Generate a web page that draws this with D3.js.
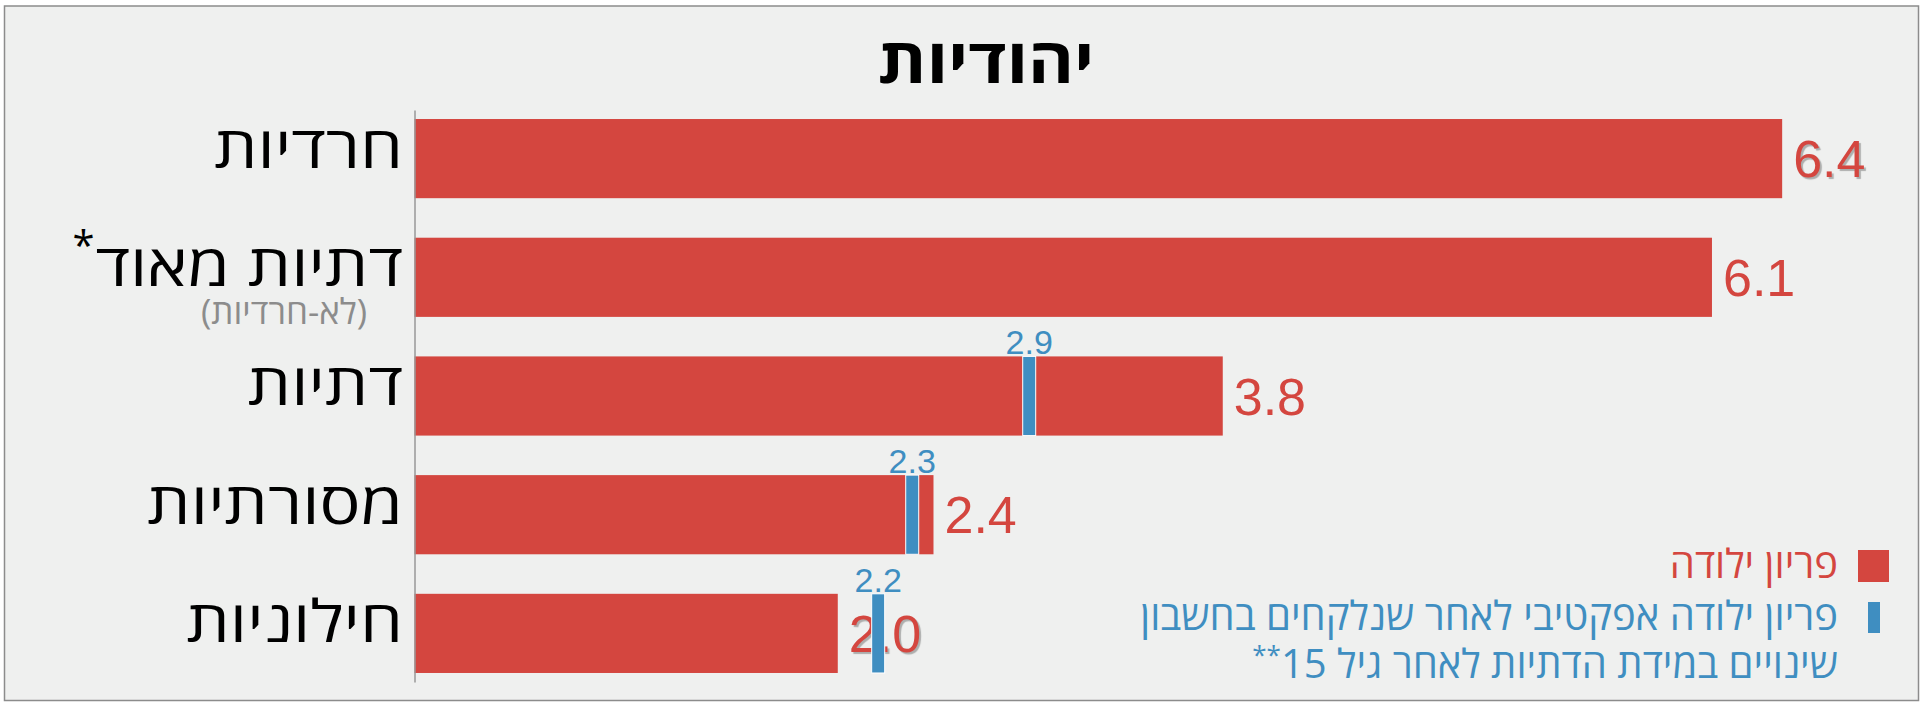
<!DOCTYPE html>
<html>
<head>
<meta charset="utf-8">
<script src="https://cdn.jsdelivr.net/npm/d3@7"></script>
<style>
  body { margin: 0; background: #fff; }
  .heb { font-family: "Open Sans", "DejaVu Sans", sans-serif; }
  .num { font-family: "Liberation Sans", Arial, sans-serif; }
</style>
</head>
<body>
<div class="viz"></div>
<script>
const chartTitle = "יהודיות";
const categories = ["חרדיות", "דתיות מאוד", "דתיות", "מסורתיות", "חילוניות"];
const categoryNotes = ["", "*", "", "", ""];
const categorySubs = ["", "(לא-חרדיות)", "", "", ""];
const fertility = [6.43, 6.10, 3.80, 2.44, 1.99];
const effective = [null, null, 2.89, 2.34, 2.18];
const legendRed = "פריון ילודה";
const legendBlue = ["פריון ילודה אפקטיבי לאחר שנלקחים בחשבון", "שינויים במידת הדתיות לאחר גיל 15"];
const legendBlueNote = "**";

const width = 1923, height = 702;
const red = "#d4463f", blue = "#3f8ec1";
const labelRight = 403;
const stretch = 1.18; // the reference's labels are drawn wider than the font

const svg = d3.select(".viz").append("svg")
  .attr("width", width)
  .attr("height", height)
  .style("display", "block");

// frame
svg.append("rect")
  .attr("x", 4.5).attr("y", 6)
  .attr("width", 1914).attr("height", 694.5)
  .attr("fill", "#eff0ef")
  .attr("stroke", "#8c8c8c")
  .attr("stroke-width", 1.5);

const x = d3.scaleLinear().domain([0, 6.5]).range([414.5, 414.5 + 6.5 * 212.7]);
const y = d3.scaleBand().domain(categories).range([110, 682])
  .paddingInner(0.333).paddingOuter(0.076);

svg.append("g")
  .attr("transform", "translate(986,83) scale(1.13,1)")
  .append("text")
  .attr("class", "heb")
  .attr("text-anchor", "middle")
  .attr("font-size", 62)
  .attr("font-weight", "bold")
  .attr("fill", "#000")
  .text(chartTitle);

// bars
svg.append("g").selectAll("rect")
  .data(categories)
  .enter().append("rect")
  .attr("x", x(0))
  .attr("y", d => y(d))
  .attr("width", (d, i) => x(fertility[i]) - x(0))
  .attr("height", y.bandwidth())
  .attr("fill", red);

// left axis line only
const axis = svg.append("g")
  .attr("transform", `translate(${x(0)},0)`)
  .call(d3.axisLeft(y).tickSize(0).tickFormat(""));
axis.select(".domain").attr("stroke", "#999").attr("stroke-width", 1.5);

// category labels
const labels = svg.append("g").selectAll("g")
  .data(categories)
  .enter().append("g")
  .attr("transform", d => `translate(${labelRight},${y(d) + y.bandwidth() / 2})`);

labels.append("g")
  .attr("transform", `scale(${stretch},1)`)
  .append("text")
  .attr("class", "heb main")
  .attr("y", 9)
  .attr("direction", "rtl")
  .attr("text-anchor", "start")
  .attr("font-size", 58)
  .attr("fill", "#000")
  .text(d => d);

labels.each(function (d, i) {
  const g = d3.select(this);
  if (categoryNotes[i]) {
    const w = g.select("text.main").node().getComputedTextLength() * stretch;
    g.append("text")
      .attr("class", "heb")
      .attr("x", -w - 1)
      .attr("y", -17)
      .attr("text-anchor", "end")
      .attr("font-size", 40)
      .attr("fill", "#000")
      .text(categoryNotes[i]);
  }
  if (categorySubs[i]) {
    g.append("text")
      .attr("class", "heb")
      .attr("x", 367 - labelRight)
      .attr("y", 47)
      .attr("direction", "rtl")
      .attr("text-anchor", "start")
      .attr("font-size", 35)
      .attr("fill", "#8c8c8c")
      .text(categorySubs[i]);
  }
});

// value labels
svg.append("g").selectAll("text")
  .data(categories)
  .enter().append("text")
  .attr("class", "num")
  .attr("x", (d, i) => x(fertility[i]) + 11)
  .attr("y", d => y(d) + y.bandwidth() / 2)
  .attr("dy", "0.36em")
  .attr("font-size", 52)
  .attr("fill", red)
  .style("text-shadow", (d, i) => (i === 0 || i === categories.length - 1) ? "2px 2px 1px rgba(0,0,0,0.28)" : null)
  .text((d, i) => d3.format(".1f")(fertility[i]));

// effective fertility markers
const eff = categories.map((c, i) => ({ cat: c, v: effective[i] })).filter(d => d.v != null);

svg.append("g").selectAll("rect")
  .data(eff)
  .enter().append("rect")
  .attr("x", d => x(d.v) - 6.5)
  .attr("y", d => y(d.cat))
  .attr("width", 13)
  .attr("height", y.bandwidth())
  .attr("fill", blue)
  .attr("stroke", "#fff")
  .attr("stroke-width", 1);

svg.append("g").selectAll("text")
  .data(eff)
  .enter().append("text")
  .attr("class", "num")
  .attr("x", d => x(d.v))
  .attr("y", d => y(d.cat) - 2)
  .attr("text-anchor", "middle")
  .attr("font-size", 34)
  .attr("fill", blue)
  .text(d => d3.format(".1f")(d.v));

// legend
const legend = svg.append("g").attr("class", "heb");
legend.append("rect")
  .attr("x", 1858).attr("y", 550)
  .attr("width", 31).attr("height", 32)
  .attr("fill", red);
legend.append("text")
  .attr("x", 1838).attr("y", 578)
  .attr("direction", "rtl")
  .attr("text-anchor", "start")
  .attr("font-size", 40)
  .attr("fill", red)
  .text(legendRed);

legend.append("rect")
  .attr("x", 1868).attr("y", 602)
  .attr("width", 12).attr("height", 31)
  .attr("fill", blue);
const blueText = legend.selectAll("text.blue")
  .data(legendBlue)
  .enter().append("text")
  .attr("class", "blue")
  .attr("x", 1838)
  .attr("y", (d, i) => 630 + i * 48)
  .attr("direction", "rtl")
  .attr("text-anchor", "start")
  .attr("font-size", 40)
  .attr("fill", blue);
blueText.append("tspan").text(d => d);
blueText.filter((d, i) => i === legendBlue.length - 1)
  .append("tspan")
  .attr("font-size", 26)
  .attr("baseline-shift", "55%")
  .text(legendBlueNote);
</script>
</body>
</html>
